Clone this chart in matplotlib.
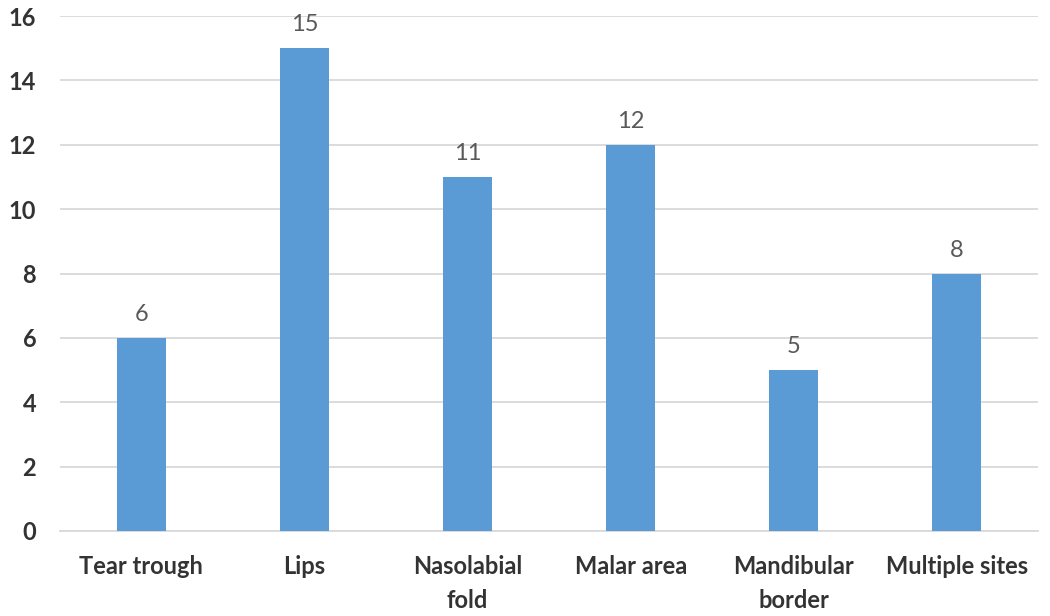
import matplotlib
matplotlib.use("Agg")
import matplotlib.pyplot as plt

categories = ["Tear trough", "Lips", "Nasolabial\nfold", "Malar area", "Mandibular\nborder", "Multiple sites"]
values = [6, 15, 11, 12, 5, 8]
yticks = [0, 2, 4, 6, 8, 10, 12, 14, 16]

plt.rcParams['font.family'] = ['Lato', 'DejaVu Sans']

fig = plt.figure(figsize=(10.5, 6.16), dpi=100)
ax = fig.add_axes([0.057, 0.138, 0.932, 0.836])

x = list(range(len(categories)))
bars = ax.bar(x, values, width=0.3, color="#5B9BD5", zorder=3)
for xi, v in zip(x, values):
    ax.text(xi, v + 0.4, str(v), ha="center", va="bottom", fontsize=17, color="#595959")

ax.set_xlim(-0.5, len(categories) - 0.5)
ax.set_ylim(0, 16)
ax.set_yticks(yticks)
ax.set_yticklabels([str(t) for t in yticks], fontsize=17, fontweight="bold", color="#333333")
ax.set_xticks(x)
ax.set_xticklabels(categories, fontsize=17, fontweight="bold", color="#333333", linespacing=1.6)
ax.tick_params(axis="both", length=0)
ax.tick_params(axis="y", pad=17)
ax.tick_params(axis="x", pad=17)
ax.grid(axis="y", color="#D9D9D9", linewidth=1.3, zorder=0)
for s in ["top", "right", "left"]:
    ax.spines[s].set_visible(False)
ax.spines["bottom"].set_color("#D9D9D9")
ax.spines["bottom"].set_linewidth(1.3)

fig.savefig("out.png", dpi=100, facecolor="white")
